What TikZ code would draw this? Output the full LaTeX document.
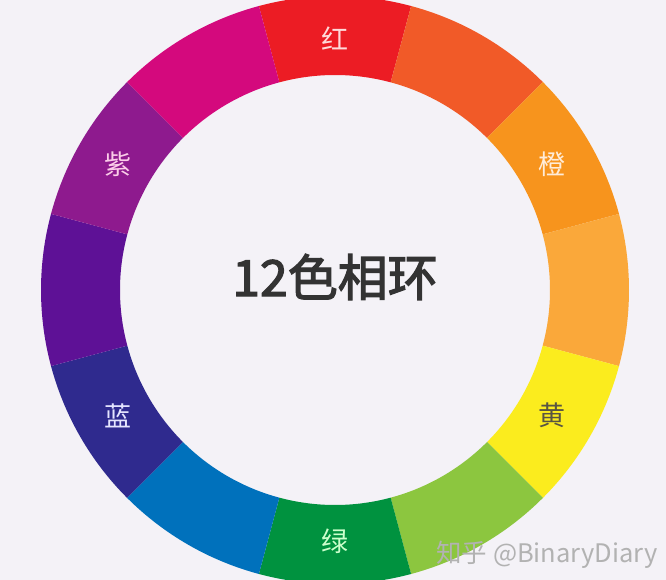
\documentclass[tikz,border=0pt]{standalone}
\usepackage{fontspec}
\usepackage{tikz}
\newfontfamily\cjk{Noto Sans CJK SC}
\newfontfamily\cjkbf{Noto Sans CJK SC}[FakeBold=2.5]
\definecolor{bgpaper}{HTML}{F4F2F7}
\definecolor{hred}{HTML}{EC1C24}
\definecolor{hredorange}{HTML}{F15A28}
\definecolor{horange}{HTML}{F7941D}
\definecolor{hlightorange}{HTML}{FAA83A}
\definecolor{hyellow}{HTML}{FBEC1E}
\definecolor{hyellowgreen}{HTML}{8CC63F}
\definecolor{hgreen}{HTML}{00923F}
\definecolor{hblue}{HTML}{0071BC}
\definecolor{hblueviolet}{HTML}{2F2A8E}
\definecolor{hviolet}{HTML}{5E1196}
\definecolor{hpurple}{HTML}{8E1A8E}
\definecolor{hmagenta}{HTML}{D4097D}

\begin{document}
\begin{tikzpicture}[x=1pt,y=1pt,
  seglabel/.style={font=\cjk\fontsize{27}{27}\selectfont}]
\fill[bgpaper] (-335,-290) rectangle (331,290);
\useasboundingbox (-335,-290) rectangle (331,290);
% twelve ring segments, clockwise from the top
\fill[hred] (75:294) arc[start angle=75,end angle=105,radius=294] -- (105:215) arc[start angle=105,end angle=75,radius=215] -- cycle;
\fill[hredorange] (45:294) arc[start angle=45,end angle=75,radius=294] -- (75:215) arc[start angle=75,end angle=45,radius=215] -- cycle;
\fill[horange] (15:294) arc[start angle=15,end angle=45,radius=294] -- (45:215) arc[start angle=45,end angle=15,radius=215] -- cycle;
\fill[hlightorange] (-15:294) arc[start angle=-15,end angle=15,radius=294] -- (15:215) arc[start angle=15,end angle=-15,radius=215] -- cycle;
\fill[hyellow] (-45:294) arc[start angle=-45,end angle=-15,radius=294] -- (-15:215) arc[start angle=-15,end angle=-45,radius=215] -- cycle;
\fill[hyellowgreen] (-75:294) arc[start angle=-75,end angle=-45,radius=294] -- (-45:215) arc[start angle=-45,end angle=-75,radius=215] -- cycle;
\fill[hgreen] (-105:294) arc[start angle=-105,end angle=-75,radius=294] -- (-75:215) arc[start angle=-75,end angle=-105,radius=215] -- cycle;
\fill[hblue] (-135:294) arc[start angle=-135,end angle=-105,radius=294] -- (-105:215) arc[start angle=-105,end angle=-135,radius=215] -- cycle;
\fill[hblueviolet] (-165:294) arc[start angle=-165,end angle=-135,radius=294] -- (-135:215) arc[start angle=-135,end angle=-165,radius=215] -- cycle;
\fill[hviolet] (165:294) arc[start angle=165,end angle=195,radius=294] -- (195:215) arc[start angle=195,end angle=165,radius=215] -- cycle;
\fill[hpurple] (135:294) arc[start angle=135,end angle=165,radius=294] -- (165:215) arc[start angle=165,end angle=135,radius=215] -- cycle;
\fill[hmagenta] (105:294) arc[start angle=105,end angle=135,radius=294] -- (135:215) arc[start angle=135,end angle=105,radius=215] -- cycle;
% labels
\node[seglabel,text=red!15] (hong) at (90:251) {红};
\node[seglabel,text=orange!15] (cheng) at (30:251) {橙};
\node[seglabel,text=black!75!yellow] (huang) at (-30:251) {黄};
\node[seglabel,text=green!20] (lv) at (-90:251) {绿};
\node[seglabel,text=white!90!blue] (lan) at (-150:251) {蓝};
\node[seglabel,text=magenta!20] (zi) at (150:251) {紫};
\node[text=black!80,font=\cjkbf\fontsize{50}{50}\selectfont] (title) at (0,13) {12色相环};
\node[text=black!30,font=\cjk\fontsize{25.5}{25.5}\selectfont] (mark) at (212,-265) {知乎 @BinaryDiary};
\end{tikzpicture}
\end{document}
